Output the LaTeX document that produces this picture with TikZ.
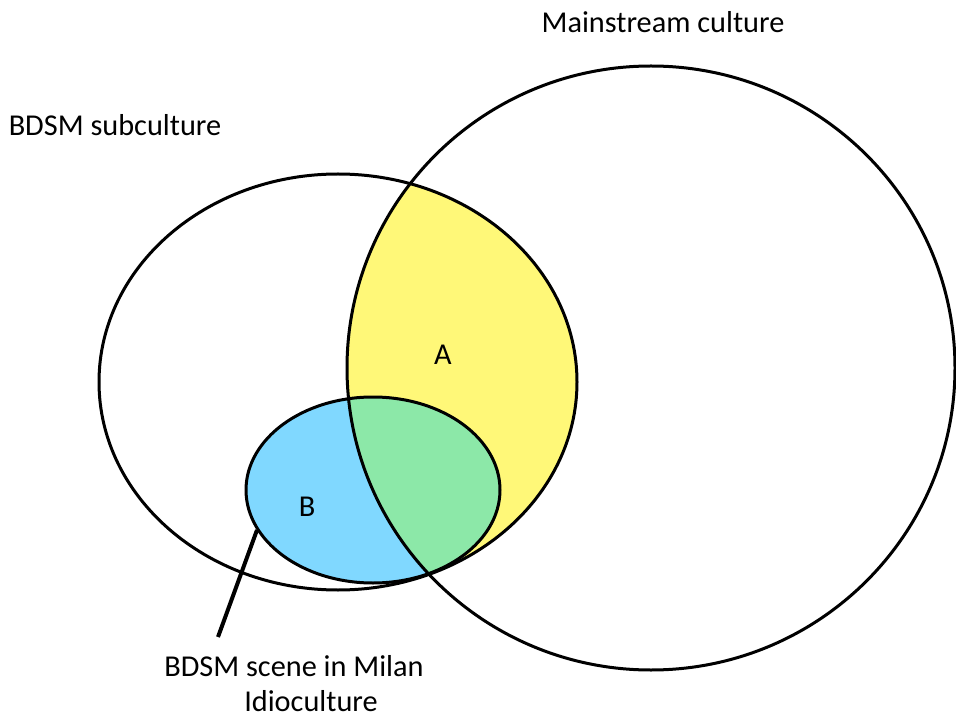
\documentclass[tikz,border=0pt]{standalone}
\usepackage{fontspec}
\setmainfont{Carlito}
\definecolor{ayellow}{RGB}{255,248,120}
\definecolor{bblue}{RGB}{128,216,255}
\definecolor{cgreen}{RGB}{140,232,168}
\begin{document}
\begin{tikzpicture}[x=1pt,y=-1pt,
  outline/.style={draw=black,line width=3pt},
  lbl/.style={font=\fontsize{30.3}{34}\selectfont,inner sep=0pt}]
\useasboundingbox (0,0) rectangle (956,719);
% regions
\begin{scope}
  \clip (338,382) ellipse [x radius=239,y radius=208];
  \fill[ayellow] (651,368) ellipse [x radius=304,y radius=302];
\end{scope}
\fill[bblue] (373,490) ellipse [x radius=127,y radius=93];
\begin{scope}
  \clip (373,490) ellipse [x radius=127,y radius=93];
  \fill[cgreen] (651,368) ellipse [x radius=304,y radius=302];
\end{scope}
% outlines
\draw[outline] (651,368) ellipse [x radius=304,y radius=302];
\draw[outline] (338,382) ellipse [x radius=239,y radius=208];
\draw[outline] (373,490) ellipse [x radius=127,y radius=93];
% labels
\node[lbl] (main) at (663,22) {Mainstream culture};
\node[lbl] (bdsm) at (115,125) {BDSM subculture};
\node[lbl] (a) at (443,355) {A};
\node[lbl] (b) at (307,507) {B};
\node[lbl] (milan1) at (294,666) {BDSM scene in Milan};
\node[lbl] (milan2) at (311,701) {Idioculture};
\coordinate (p1) at (257,530);
\coordinate (p2) at (218,637);
\draw[line width=4pt] (p1) -- (p2);
\end{tikzpicture}
\end{document}
